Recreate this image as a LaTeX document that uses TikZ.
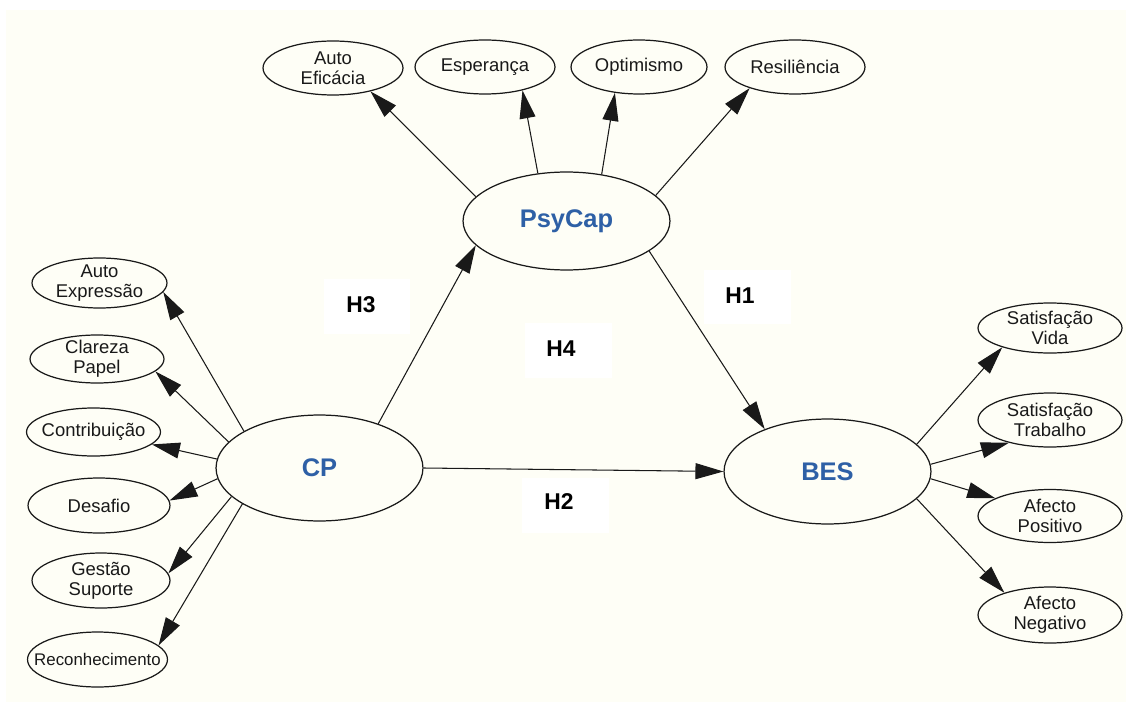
\documentclass[tikz,border=0pt]{standalone}
\usepackage{fontspec}
\setmainfont{Liberation Sans}
\usetikzlibrary{arrows.meta,shapes.geometric}
\definecolor{cream}{RGB}{254,254,246}
\definecolor{hblue}{RGB}{46,96,166}
\definecolor{ink}{RGB}{25,25,25}
\begin{document}
\begin{tikzpicture}[x=0.02cm,y=-0.02cm,
  ell/.style={ellipse,draw=ink,line width=0.7pt,fill=cream,inner sep=0pt},
  el/.style 2 args={minimum width=#1*0.04cm,minimum height=#2*0.04cm},
  lbl/.style={align=center,inner sep=0pt,text=ink,font=\fontsize{10.5}{11.5}\selectfont},
  rlbl/.style={lbl,font=\fontsize{9.6}{11}\selectfont},
  mainlbl/.style={inner sep=0pt,text=hblue,font=\fontsize{14.5}{16}\selectfont\bfseries},
  hbox/.style={rectangle,fill=white,draw=none,minimum width=1.74cm,minimum height=1.1cm,inner sep=0pt},
  htxt/.style={inner sep=0pt,text=black,font=\fontsize{13}{15}\selectfont\bfseries},
  conn/.style={-{Triangle[length=0.56cm,width=0.32cm]},line width=0.6pt,draw=ink}]
\useasboundingbox (0,0) rectangle (1131,709);
\fill[white] (0,0) rectangle (1131,709);
\fill[cream] (6,10) rectangle (1126,702);

% hypothesis label boxes
\node[hbox] (b1) at (747,297) {};
\node[htxt] (h1) at (740,296) {H1};
\node[hbox] (b2) at (565,505.5) {};
\node[htxt] (h2) at (559,502) {H2};
\node[hbox] (b3) at (367,306.5) {};
\node[htxt] (h3) at (361,305) {H3};
\node[hbox] (b4) at (568.5,350.5) {};
\node[htxt] (h4) at (561,349) {H4};

% main constructs
\node[ell,el={103.5}{49},label={[mainlbl]center:PsyCap}] (psy) at (566.5,221) {};
\node[ell,el={103.5}{53},label={[mainlbl]center:CP}] (cp) at (319.5,468) {};
\node[ell,el={103.5}{52.5},label={[mainlbl]center:BES}] (bes) at (827.5,471.5) {};

% PsyCap indicators
\node[ell,el={70}{27},label={[lbl]center:{Auto\\Eficácia}}] (ae) at (333,68) {};
\node[ell,el={70}{27},label={[lbl]center:Esperança}] (es) at (485,67) {};
\node[ell,el={68}{27},label={[lbl]center:Optimismo}] (op) at (639,67) {};
\node[ell,el={70}{27},label={[lbl]center:Resiliência}] (re) at (795,67) {};

% CP indicators
\node[ell,el={67.5}{25},label={[lbl]center:{Auto\\Expressão}}] (ax) at (99.5,283) {};
\node[ell,el={67}{24},label={[lbl]center:{Clareza\\Papel}}] (cl) at (97,359) {};
\node[ell,el={67}{24},label={[lbl]center:Contribuição}] (co) at (93.5,432) {};
\node[ell,el={71}{27.5},label={[lbl]center:Desafio}] (de) at (99,505.5) {};
\node[ell,el={69}{27.5},label={[lbl]center:{Gestão\\Suporte}}] (gs) at (101,580.5) {};
\node[ell,el={70}{27.5},label={[rlbl]center:Reconhecimento}] (rc) at (97.5,659.5) {};

% BES indicators
\node[ell,el={72}{25},label={[lbl]center:{Satisfação\\Vida}}] (sv) at (1050,328) {};
\node[ell,el={72}{27},label={[lbl]center:{Satisfação\\Trabalho}}] (st) at (1050,420) {};
\node[ell,el={72}{26.5},label={[lbl]center:{Afecto\\Positivo}}] (ap) at (1050,516) {};
\node[ell,el={72}{28},label={[lbl]center:{Afecto\\Negativo}}] (an) at (1050,615) {};

% structural paths
\draw[conn] (cp.37.4) -- (psy.195.5);
\draw[conn] (cp.east) -- (bes.west);
\draw[conn] (psy.-20.9) -- (bes.146);

% PsyCap -> indicators
\draw[conn] (psy.165.6) -- (ae.-32.7);
\draw[conn] (psy.121) -- (es.-32);
\draw[conn] (psy.53.7) -- (op.227);
\draw[conn] (psy.16) -- (re.205.6);

% CP -> indicators
\draw[conn] (cp.154.8) -- (ax.-8.4);
\draw[conn] (cp.164.9) -- (cl.-12.2);
\draw[conn] (cp.175.5) -- (co.-12.7);
\draw[conn] (cp.186.7) -- (de.4.6);
\draw[conn] (cp.198.3) -- (gs.6.4);
\draw[conn] (cp.205.5) -- (rc.13.7);

% BES -> indicators
\draw[conn] (bes.17.7) -- (sv.202.5);
\draw[conn] (bes.4.7) -- (st.209.9);
\draw[conn] (bes.-4.7) -- (ap.162.5);
\draw[conn] (bes.-17.5) -- (an.154.4);
\end{tikzpicture}
\end{document}
